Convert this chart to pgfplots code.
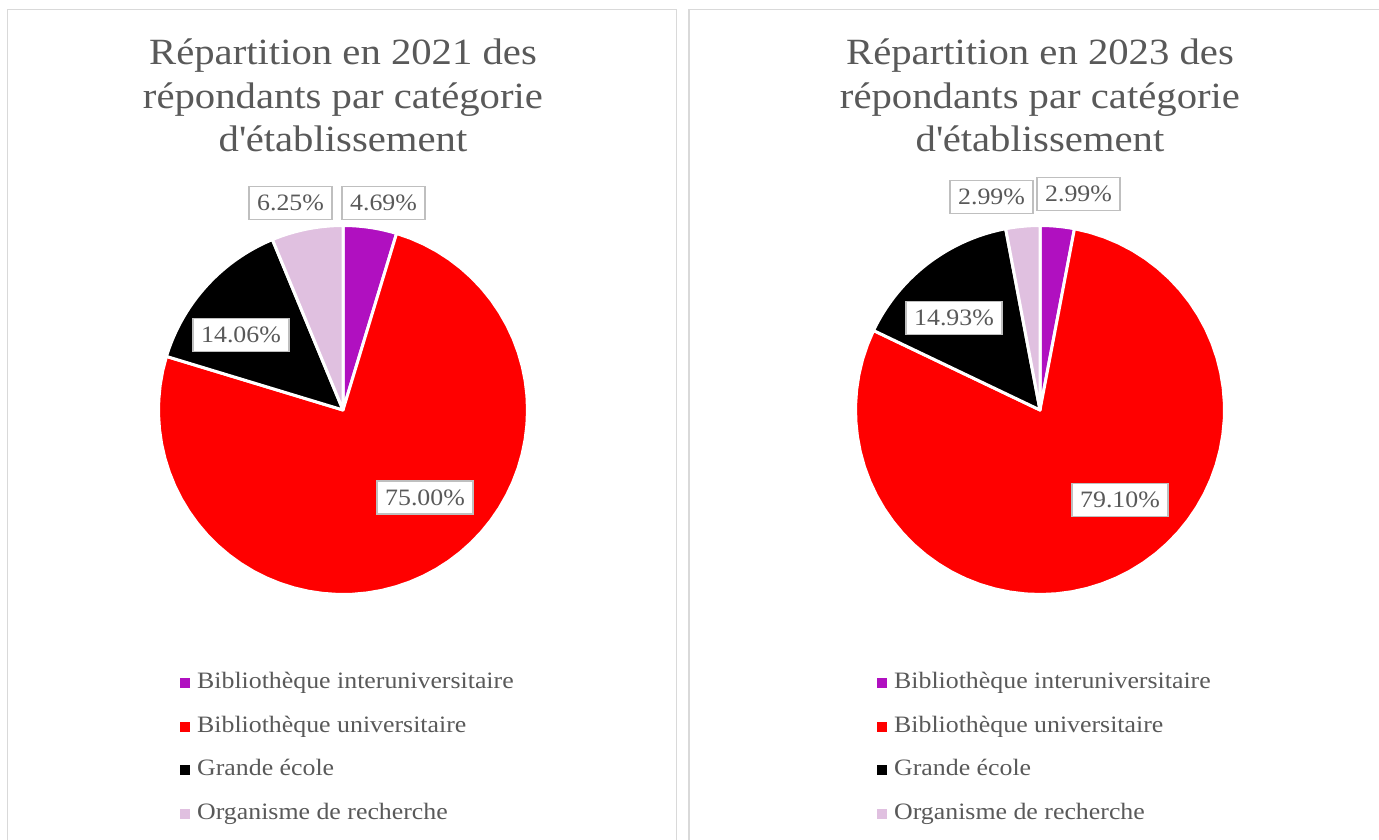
\documentclass[border=0pt]{standalone}
\usepackage{pgfplots}
\pgfplotsset{compat=1.18}
\usepgfplotslibrary{polar}
\usepackage{fontspec}
\setmainfont[FakeStretch=1.1]{Liberation Serif}
\definecolor{cpurple}{HTML}{B010C0}
\definecolor{cred}{HTML}{FF0000}
\definecolor{cblack}{HTML}{000000}
\definecolor{cpink}{HTML}{E0C0E0}
\definecolor{ctext}{HTML}{595959}
\definecolor{cborder}{HTML}{D9D9D9}
\definecolor{cbox}{HTML}{BFBFBF}
\pgfplotsset{
  pie/.style={at={(#1)}, anchor=origin, width=369pt, height=369pt,
    scale only axis, hide axis, xmin=-270, xmax=90, ymin=0, ymax=1,
    clip=false,
    legend image code/.code={\fill[##1, draw=none] (0pt,-5pt) rectangle (10pt,5pt); \path[draw=none, fill=none] (0pt,0pt) rectangle (16pt,0.1pt);},
    legend style={draw=none, fill=none, at={(axis description cs:0.05,-0.2035)},
      anchor=north west, font=\fontsize{23.5}{28}\selectfont, text=ctext,
      row sep=20.5pt, cells={anchor=west},
      nodes={inner sep=1pt, text height=16pt, text depth=5pt}},
    legend cell align=left},
  slice/.style={fill=#1, draw=white, line width=3pt, line join=round, samples=60}
}
\tikzset{lab/.style={draw=cbox, line width=1.5pt, fill=white, text=ctext,
  font=\fontsize{23.5}{28}\selectfont, inner xsep=8pt, inner ysep=0pt,
  text height=15.5pt, text depth=0pt, minimum height=33pt},
  ttl/.style={anchor=base, text=ctext, font=\fontsize{37}{44}\selectfont, inner sep=0pt}}
\begin{document}
\begin{tikzpicture}[x=1pt,y=1pt]
\path[use as bounding box] (0,0) rectangle (1379,839);
\draw[cborder, line width=1.5pt] (7.5,-10) |- (676.5,829.5) -- (676.5,-10);
\draw[cborder, line width=1.5pt] (689,-10) |- (1390,829.5);

% 2021: 4.69, 75.00, 14.06, 6.25 (angles clockwise from 90 deg)
\begin{polaraxis}[pie={343pt,429pt}]
\addplot[slice=cpurple, domain=73.116:90] {1} -- (axis cs:0,0) -- cycle;
\addplot[slice=cred, domain=-196.884:73.116] {1} -- (axis cs:0,0) -- cycle;
\addplot[slice=cblack, domain=-247.5:-196.884] {1} -- (axis cs:0,0) -- cycle;
\addplot[slice=cpink, domain=-270:-247.5] {1} -- (axis cs:0,0) -- cycle;
\legend{Bibliothèque interuniversitaire, Bibliothèque universitaire, Grande école, Organisme de recherche}
\end{polaraxis}

% 2023: 2.99, 79.10, 14.93, 2.99
\begin{polaraxis}[pie={1040pt,429pt}]
\addplot[slice=cpurple, domain=79.236:90] {1} -- (axis cs:0,0) -- cycle;
\addplot[slice=cred, domain=-205.524:79.236] {1} -- (axis cs:0,0) -- cycle;
\addplot[slice=cblack, domain=-259.272:-205.524] {1} -- (axis cs:0,0) -- cycle;
\addplot[slice=cpink, domain=-270:-259.272] {1} -- (axis cs:0,0) -- cycle;
\legend{Bibliothèque interuniversitaire, Bibliothèque universitaire, Grande école, Organisme de recherche}
\end{polaraxis}

% titles
\node[ttl] at (343,774) {Répartition en 2021 des};
\node[ttl] at (343,730.5) {répondants par catégorie};
\node[ttl] at (343,687) {d\textquotesingle établissement};
\node[ttl] at (1040,774) {Répartition en 2023 des};
\node[ttl] at (1040,730.5) {répondants par catégorie};
\node[ttl] at (1040,687) {d\textquotesingle établissement};

% data labels
\node[lab] at (383.5,636) {4.69\%};
\node[lab] at (290.5,636) {6.25\%};
\node[lab] at (241,504) {14.06\%};
\node[lab] at (425,341.5) {75.00\%};
\node[lab] at (991.5,642) {2.99\%};
\node[lab] at (1078.5,645) {2.99\%};
\node[lab] at (954,521) {14.93\%};
\node[lab] at (1120,339) {79.10\%};
\end{tikzpicture}
\end{document}
